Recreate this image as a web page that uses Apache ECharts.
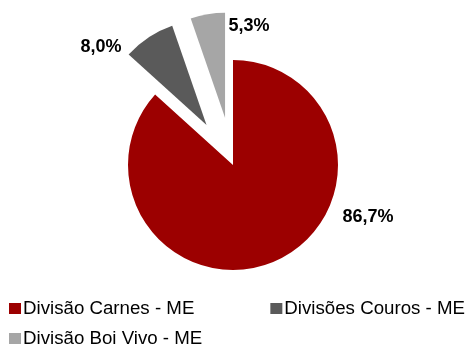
<!DOCTYPE html>
<html>
<head>
<meta charset="utf-8">
<script src="https://cdn.jsdelivr.net/npm/echarts@6/dist/echarts.min.js"></script>
<style>
  html, body { margin: 0; padding: 0; background: #fff; }
  #chart { width: 468px; height: 344px; }
</style>
</head>
<body>
<div id="chart"></div>
<script>
// Revenue split by division (%)
const categories = ['Divisão Carnes - ME', 'Divisões Couros - ME', 'Divisão Boi Vivo - ME'];
const shares = [86.7, 8.0, 5.3];
const exploded = [false, true, true];
const colors = ['#9C0000', '#5A5A5A', '#A6A6A6'];

// Where each percentage label sits
const labelSpots = [
  { x: 368, y: 217 },
  { x: 101, y: 47 },
  { x: 249, y: 26 }
];

const fmt = v => v.toFixed(1).replace('.', ',') + '%';

const chart = echarts.init(document.getElementById('chart'), null, { renderer: 'canvas' });

const FONT = 'Liberation Sans, Arial, sans-serif';
const legendText = { color: '#000', fontSize: 18.7, fontFamily: FONT, padding: [0, 0, 0, -3] };

const pieBase = {
  type: 'pie',
  center: [233, 165],
  radius: 105,
  startAngle: 90,
  clockwise: true,
  silent: true,
  emphasis: { disabled: true },
  labelLine: { show: false }
};

chart.setOption({
  animation: false,
  color: colors,
  legend: [
    {
      data: categories.slice(0, 2),
      left: 9,
      top: 299,
      icon: 'rect',
      itemWidth: 12,
      itemHeight: 11,
      itemGap: 76,
      selectedMode: false,
      padding: 0,
      textStyle: legendText
    },
    {
      data: categories.slice(2),
      left: 9,
      top: 329,
      icon: 'rect',
      itemWidth: 12,
      itemHeight: 11,
      selectedMode: false,
      padding: 0,
      textStyle: legendText
    }
  ],
  series: [
    // slices, the two smaller divisions pulled out
    Object.assign({}, pieBase, {
      name: 'slices',
      selectedMode: 'multiple',
      selectedOffset: 48,
      itemStyle: { borderWidth: 0 },
      label: { show: false },
      data: categories.map((name, i) => ({ name, value: shares[i], selected: exploded[i] }))
    }),
    // percentage labels
    Object.assign({}, pieBase, {
      name: 'labels',
      selectedMode: false,
      itemStyle: { color: 'rgba(0,0,0,0)', borderWidth: 0 },
      label: {
        show: true,
        position: 'outside',
        formatter: p => fmt(p.value),
        color: '#000',
        fontSize: 18,
        fontWeight: 'bold',
        fontFamily: FONT
      },
      labelLayout: p => ({
        x: labelSpots[p.dataIndex].x,
        y: labelSpots[p.dataIndex].y,
        align: 'center',
        verticalAlign: 'middle'
      }),
      data: categories.map((name, i) => ({ name, value: shares[i] }))
    })
  ]
});
</script>
</body>
</html>
